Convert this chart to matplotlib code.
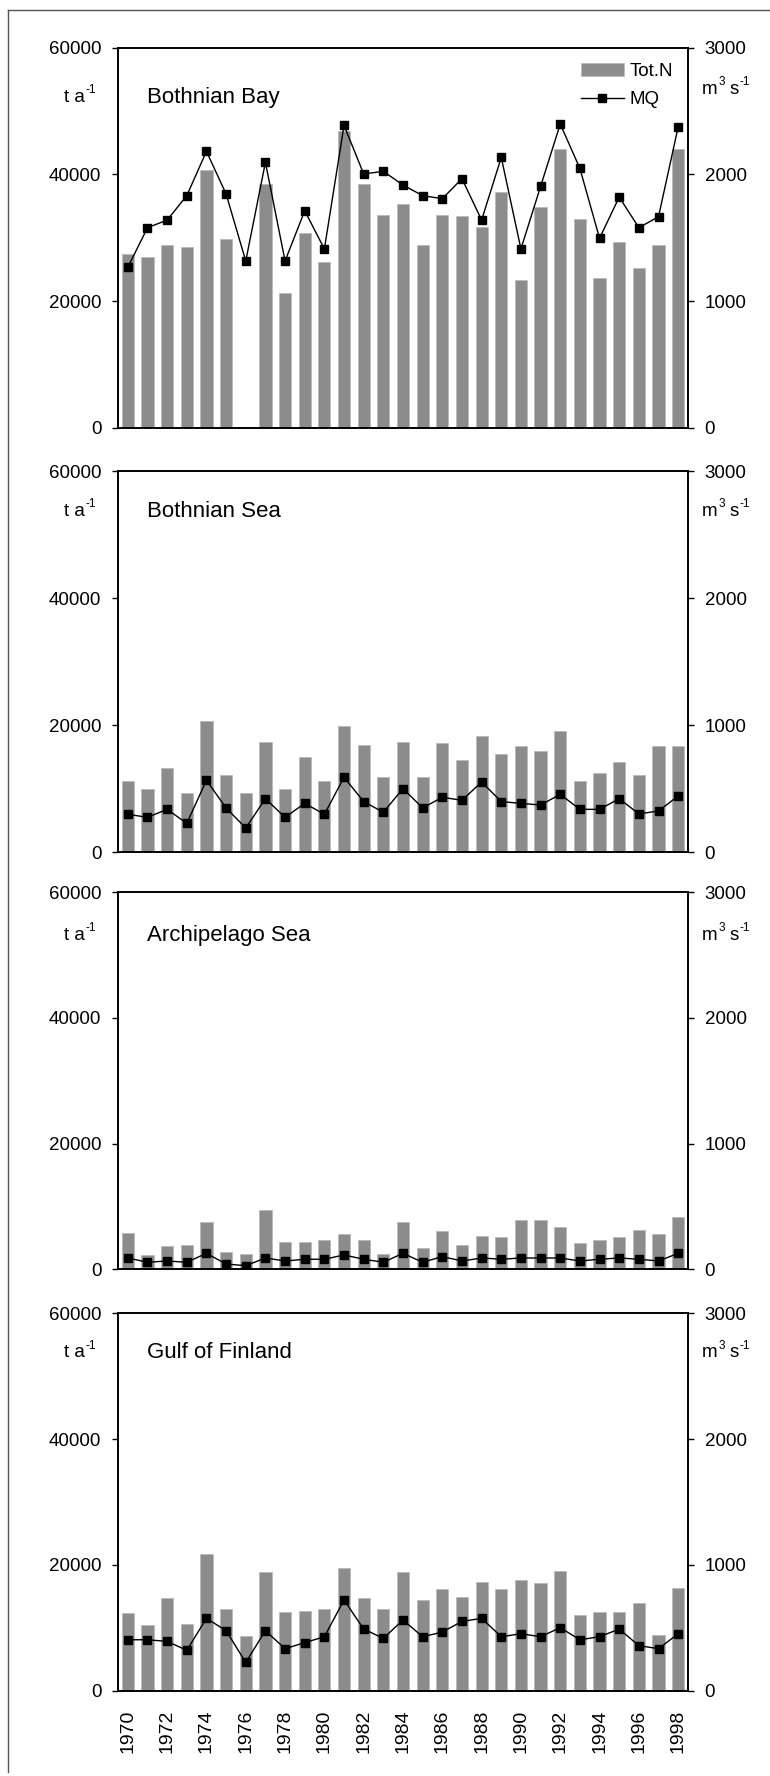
import matplotlib
matplotlib.use('Agg')
import matplotlib.pyplot as plt
from matplotlib.lines import Line2D
import numpy as np

plt.rcParams['font.family'] = ['Liberation Sans', 'DejaVu Sans']

years = list(range(1970, 1999))
year_labels = [str(y) if y % 2 == 0 else '' for y in years]

regions = ['Bothnian Bay', 'Bothnian Sea', 'Archipelago Sea', 'Gulf of Finland']

# total nitrogen load, t/a (1976 missing for Bothnian Bay)
totn_bay = [27400, 26950, 28850, 28600, 40650, 29850, np.nan, 38550, 21200, 30800,
            26200, 46850, 38550, 33650, 35350, 28850, 33650, 33400, 31750, 37250,
            23350, 34900, 43950, 32950, 23650, 29350, 25250, 28850, 43950]
totn_sea = [11150, 9950, 13300, 9300, 20700, 12100, 9300, 17350, 9950, 15000,
            11150, 19950, 16900, 11850, 17350, 11850, 17150, 14550, 18350, 15450,
            16700, 15900, 19100, 11150, 12400, 14250, 12100, 16700, 16700]
totn_arch = [5850, 2250, 3650, 3900, 7550, 2700, 2450, 9450, 4400, 4400,
             4600, 5550, 4600, 2450, 7550, 3400, 6100, 3900, 5350, 5100,
             7800, 7800, 6800, 4150, 4600, 5100, 6300, 5600, 8300]
totn_gulf = [12300, 10400, 14700, 10650, 21750, 13000, 8700, 18800, 12500, 12750,
             13000, 19550, 14700, 13000, 18800, 14450, 16150, 14950, 17350, 16150,
             17600, 17100, 19050, 12050, 12500, 12500, 13950, 8900, 16400]

# mean discharge MQ, m3/s
mq_bay = [1266, 1579, 1639, 1832, 2182, 1845, 1316, 2095, 1316, 1713,
          1411, 2387, 2003, 2024, 1916, 1832, 1808, 1966, 1639, 2134,
          1411, 1905, 2397, 2047, 1495, 1821, 1579, 1666, 2374]
mq_sea = [299, 275, 338, 228, 566, 349, 191, 422, 275, 385,
          299, 590, 399, 315, 501, 349, 433, 409, 553, 399,
          385, 372, 456, 338, 338, 422, 302, 325, 443]
mq_arch = [90, 56, 66, 56, 127, 42, 29, 90, 66, 80,
           80, 114, 80, 56, 127, 56, 101, 66, 90, 80,
           90, 90, 90, 66, 80, 90, 80, 66, 127]
mq_gulf = [405, 405, 392, 321, 575, 477, 225, 477, 334, 382,
           429, 721, 490, 416, 562, 429, 466, 551, 575, 429,
           453, 429, 501, 405, 429, 490, 358, 334, 453]

totn = [totn_bay, totn_sea, totn_arch, totn_gulf]
mq = [mq_bay, mq_sea, mq_arch, mq_gulf]

W, H = 770, 1776
fig = plt.figure(figsize=(W / 100, H / 100), dpi=100)

# outer frame (cropped on right/bottom)
fig.add_artist(Line2D([8 / W, 8 / W], [1 - 10 / H, 1 - 1772 / H], transform=fig.transFigure,
                      color='#555555', lw=1.0))
fig.add_artist(Line2D([8 / W, 1.0], [1 - 10 / H, 1 - 10 / H], transform=fig.transFigure,
                      color='#555555', lw=1.0))

left_px, right_px = 118, 688
panel_px = [(47.7, 427.7), (471, 852.3), (892.3, 1269.3), (1313.3, 1690.7)]
label_y = [0.87, 0.895, 0.885, 0.895]

x = np.arange(len(years))
fs = 13.5
sfs = 8.5


def sup(ax, base, s, xref):
    # small raised text right after xref, top sitting above base top
    return ax.annotate(s, xy=(1, 1), xycoords=(xref, base), xytext=(0.3, 3.5),
                       textcoords='offset points', fontsize=sfs, ha='left', va='top')


for i, (top, bot) in enumerate(panel_px):
    ax = fig.add_axes([left_px / W, 1 - bot / H, (right_px - left_px) / W, (bot - top) / H])
    ax.bar(x, totn[i], width=0.62, color='#8c8c8c', edgecolor='#b8b8b8', linewidth=0.5,
           label='Tot.N', zorder=2)
    ax.set_xlim(-0.5, len(years) - 0.5)
    ax.set_ylim(0, 60000)
    ax.set_yticks([0, 20000, 40000, 60000])
    ax.tick_params(axis='y', direction='out', length=4, width=1, pad=8, labelsize=fs)
    for s in ax.spines.values():
        s.set_linewidth(1.2)

    ax2 = ax.twinx()
    ax2.plot(x, mq[i], color='black', lw=1.0, marker='s', markersize=5.5, label='MQ', zorder=3)
    ax2.set_ylim(0, 3000)
    ax2.set_yticks([0, 1000, 2000, 3000])
    ax2.tick_params(axis='y', direction='out', length=4, width=1, pad=8, labelsize=fs)
    for s in ax2.spines.values():
        s.set_linewidth(1.2)

    ax.set_xticks(x)
    if i == len(panel_px) - 1:
        ax.set_xticklabels(year_labels, rotation=90, fontsize=fs + 0.5)
        ax.tick_params(axis='x', length=0, pad=13.5)
    else:
        ax.tick_params(axis='x', length=0, labelbottom=False)

    ax.text(0.051, label_y[i], regions[i], transform=ax.transAxes, fontsize=16,
            ha='left', va='center')

    # left unit: t a^-1
    t_a = ax.text(-0.058, label_y[i], 't a', transform=ax.transAxes, fontsize=fs,
                  ha='right', va='center')
    sup(ax, t_a, '-1', t_a)

    # right unit: m^3 s^-1
    ry = label_y[i] + (0.02 if i == 0 else 0)
    t_m = ax.text(1.025, ry, 'm', transform=ax.transAxes, fontsize=fs, ha='left', va='center')
    s3 = sup(ax, t_m, '3', t_m)
    t_s = ax.annotate('s', xy=(1, 0.5), xycoords=(s3, t_m), xytext=(3.5, 0),
                      textcoords='offset points', fontsize=fs, ha='left', va='center')
    sup(ax, t_m, '-1', t_s)

    if i == 0:
        h1, l1 = ax.get_legend_handles_labels()
        h2, l2 = ax2.get_legend_handles_labels()
        ax2.legend(h1 + h2, l1 + l2, loc='upper right', frameon=False, fontsize=fs,
                   handlelength=2.3, handletextpad=0.3, borderaxespad=0.4, labelspacing=0.6)

fig.savefig('out.png', dpi=100)
